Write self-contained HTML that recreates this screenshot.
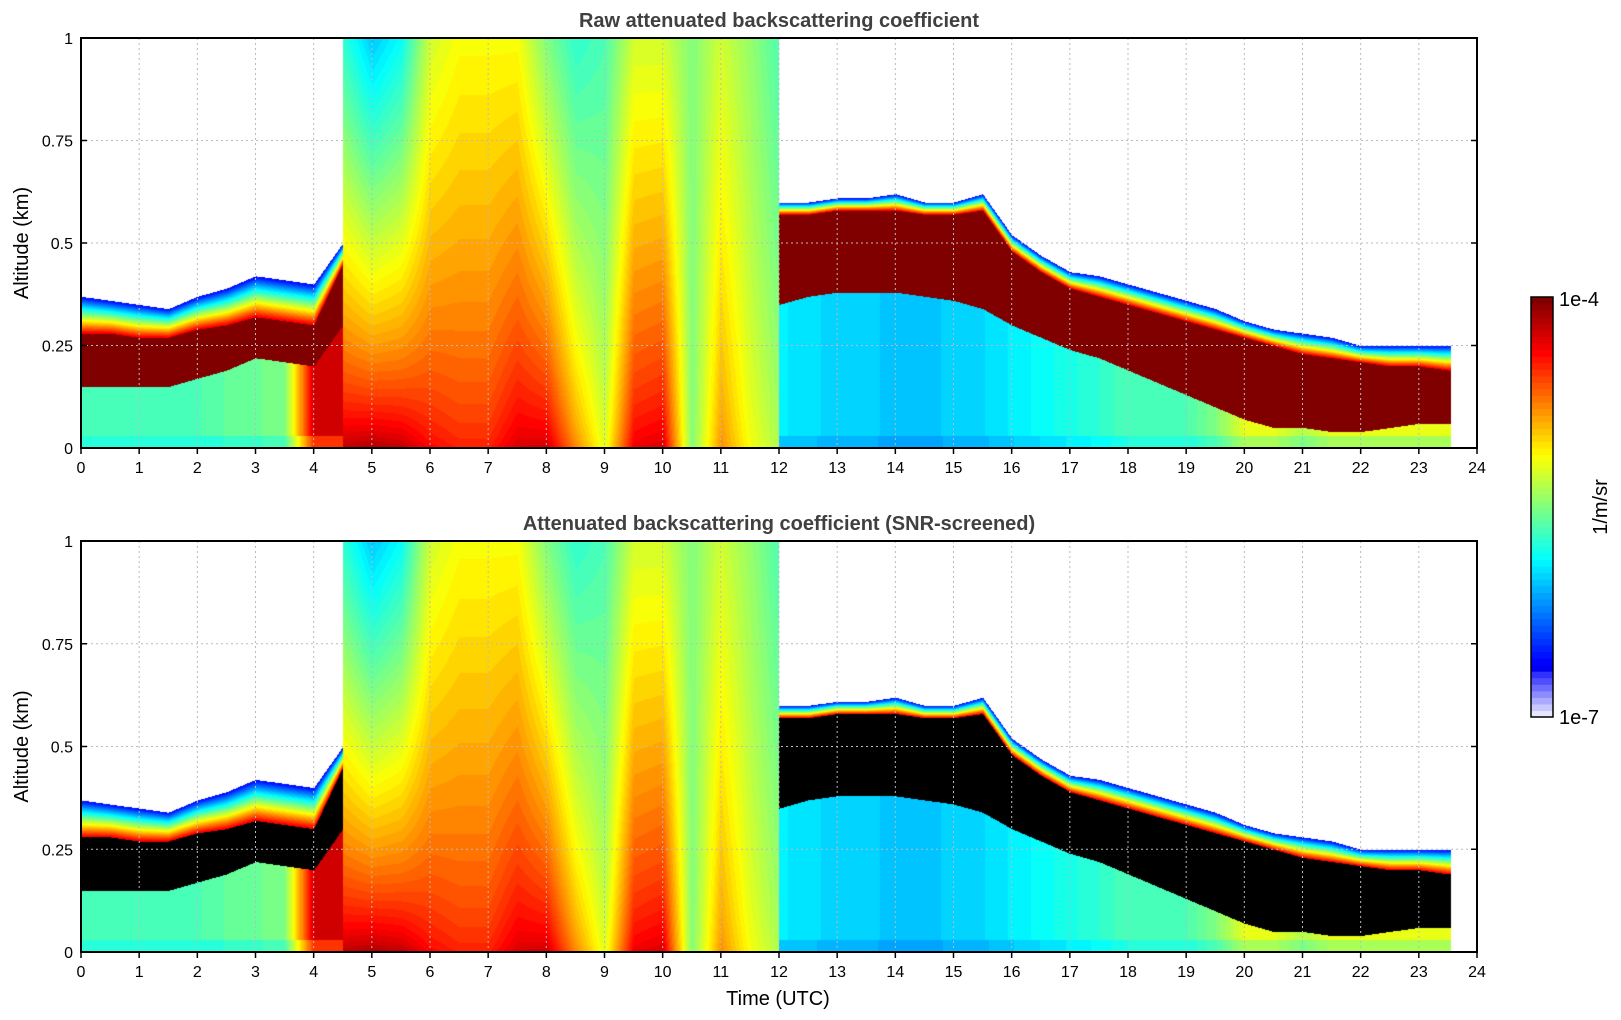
<!DOCTYPE html>
<html><head><meta charset="utf-8">
<style>
html,body{margin:0;padding:0;background:#fff;}
#wrap{position:relative;width:1621px;height:1020px;font-family:"Liberation Sans","DejaVu Sans",sans-serif;}
canvas{position:absolute;}
svg{position:absolute;left:0;top:0;}
</style></head>
<body>
<div id="wrap">
<canvas id="c1" width="1396" height="410" style="left:81px;top:38px"></canvas>
<canvas id="c2" width="1396" height="411" style="left:81px;top:541px"></canvas>
<svg id="ov" width="1621" height="1020"></svg>
</div>
<script>
// data per half hour, t = 0 .. 23.5
const times = [0,0.5,1,1.5,2,2.5,3,3.5,4,4.5,5,5.5,6,6.5,7,7.5,8,8.5,9,9.5,10,10.5,11,11.5,12,12.5,13,13.5,14,14.5,15,15.5,16,16.5,17,17.5,18,18.5,19,19.5,20,20.5,21,21.5,22,22.5,23,23.5];
const cloudFlag = [0,0,0,0,0,0,0,0,0,1,1,1,1,1,1,1,1,1,1,1,1,1,1,1,1,0,0,0,0,0,0,0,0,0,0,0,0,0,0,0,0,0,0,0,0,0,0,0];
const layerTop = [.37,.36,.35,.34,.37,.39,.42,.41,.40,.50,.5,.5,.5,.5,.5,.5,.5,.5,.5,.5,.5,.5,.5,.6,.60,.60,.61,.61,.62,.60,.60,.62,.52,.47,.43,.42,.40,.38,.36,.34,.31,.29,.28,.27,.25,.25,.25,.25];
const darkTop = [.28,.28,.27,.27,.29,.30,.32,.31,.30,.45,.4,.4,.4,.4,.4,.4,.4,.4,.4,.4,.4,.4,.4,.5,.57,.57,.58,.58,.58,.57,.57,.58,.48,.43,.39,.37,.35,.33,.31,.29,.27,.25,.23,.22,.21,.20,.20,.19];
const darkBottom = [.15,.15,.15,.15,.17,.19,.22,.21,.20,.30,.2,.2,.2,.2,.2,.2,.2,.2,.2,.2,.2,.2,.2,.35,.35,.37,.38,.38,.38,.37,.36,.34,.30,.27,.24,.22,.19,.16,.13,.10,.07,.05,.05,.04,.04,.05,.06,.06];
const belowVal = [.45,.45,.45,.45,.45,.47,.48,.50,.92,.92,.9,.9,.9,.9,.9,.9,.9,.9,.9,.9,.9,.9,.9,.4,.36,.35,.33,.33,.32,.32,.33,.34,.36,.38,.4,.42,.45,.45,.45,.5,.6,.6,.55,.6,.6,.6,.6,.6];
const cloudLow = [0,0,0,0,0,0,0,0,0,.95,.97,.95,.88,.85,.85,.92,.93,.75,.6,.9,.92,.5,.74,.62,.55,0,0,0,0,0,0,0,0,0,0,0,0,0,0,0,0,0,0,0,0,0,0,0];
const cloudHigh = [0,0,0,0,0,0,0,0,0,.42,.32,.38,.58,.62,.62,.62,.5,.42,.45,.58,.58,.5,.58,.52,.45,0,0,0,0,0,0,0,0,0,0,0,0,0,0,0,0,0,0,0,0,0,0,0];
const xTicks = [0,1,2,3,4,5,6,7,8,9,10,11,12,13,14,15,16,17,18,19,20,21,22,23,24];
const yTicks = [0,0.25,0.5,0.75,1];
const yTickLabels = ["0","0.25","0.5","0.75","1"];

const X0=81,W=1396,PX=W/24;
function clamp(v){return Math.max(0,Math.min(1,v));}
function jet(v){
  v=Math.round(clamp(v)*63)/63;
  if(v<0.1){const f=v/0.1;return [Math.round(230-(230-40)*f),Math.round(230-(230-40)*f),255];}
  const r=clamp(1.5-Math.abs(4*v-3)),g=clamp(1.5-Math.abs(4*v-2)),b=clamp(1.5-Math.abs(4*v-1));
  return [Math.round(r*255),Math.round(g*255),Math.round(b*255)];
}
function lerpArr(a,i0,i1,f){return a[i0]+(a[i1]-a[i0])*f;}
function draw(id,screened){
  const c=document.getElementById(id),ctx=c.getContext('2d');
  const H=c.height,img=ctx.createImageData(c.width,H),d=img.data;
  for(let px=0;px<c.width;px++){
    const t=px/PX; if(t>23.55) continue;
    const fi=t/0.5,i0=Math.min(Math.floor(fi),times.length-1),i1=Math.min(i0+1,times.length-1),f=fi-i0;
    const cl=cloudFlag[i0]&&cloudFlag[i1];
    const top=lerpArr(layerTop,i0,i1,f),dT=lerpArr(darkTop,i0,i1,f),dB=lerpArr(darkBottom,i0,i1,f),bv=lerpArr(belowVal,i0,i1,f);
    const lo=lerpArr(cloudLow,i0,i1,f),hi=lerpArr(cloudHigh,i0,i1,f);
    for(let py=0;py<H;py++){
      const z=1-py/H; let col=null;
      if(cl){
        col=jet(lo+(hi-lo)*Math.pow(z,0.7));
      } else {
        if(z<0.03) col=jet(bv*0.9);
        else if(z<dB) col=jet(bv);
        else if(z<dT) col=screened?[0,0,0]:jet(1);
        else if(z<top){const g=(z-dT)/(top-dT);col=jet(0.9-0.78*g);}
      }
      if(col){const k=(py*c.width+px)*4;d[k]=col[0];d[k+1]=col[1];d[k+2]=col[2];d[k+3]=255;}
    }
  }
  ctx.putImageData(img,0,0);
}
draw('c1',false);draw('c2',true);

const NS='http://www.w3.org/2000/svg',ov=document.getElementById('ov');
function el(tag,attrs,parent){const e=document.createElementNS(NS,tag);for(const k in attrs)e.setAttribute(k,attrs[k]);(parent||ov).appendChild(e);return e;}
function panel(top,h,title,showXTitle,nm){
  const g=el('g',{});
  
  
  const sx=t=>X0+t*PX, sy=v=>top+h-v*h;
  xTicks.forEach(t=>{
    if(t>0&&t<24){const l=el('line',{x1:sx(t),x2:sx(t),y1:top,y2:top+h,stroke:'#bbb','stroke-dasharray':'2,3','stroke-width':1},g);
      }
    const tk=el('line',{x1:sx(t),x2:sx(t),y1:top+h,y2:top+h+6,stroke:'#000','stroke-width':1.5},g);
    
    const tx=el('text',{x:sx(t),y:top+h+25,'text-anchor':'middle','font-size':16,fill:'#000'},g);tx.textContent=t;
    
  });
  yTicks.forEach((v,i)=>{
    if(v>0&&v<1){const l=el('line',{x1:X0,x2:X0+W,y1:sy(v),y2:sy(v),stroke:'#bbb','stroke-dasharray':'2,3','stroke-width':1},g);
      }
    const t1=el('line',{x1:X0,x2:X0+6,y1:sy(v),y2:sy(v),stroke:'#000','stroke-width':1.5},g);
    
    const t2=el('line',{x1:X0+W-6,x2:X0+W,y1:sy(v),y2:sy(v),stroke:'#000','stroke-width':1.5},g);
    
    const tx=el('text',{x:X0-8,y:sy(v)+6,'text-anchor':'end','font-size':16,fill:'#000'},g);tx.textContent=yTickLabels[i];
    
  });
  const fr=el('rect',{x:X0,y:top,width:W,height:h,fill:'none',stroke:'#000','stroke-width':2},g);
  
  const tt=el('text',{x:X0+W/2,y:top-11,'text-anchor':'middle','font-size':20,'font-weight':'bold',fill:'#404040'},g);tt.textContent=title;
  
  const yl=el('text',{x:0,y:0,'text-anchor':'middle','font-size':20,fill:'#000',transform:`translate(28,${top+h/2}) rotate(-90)`},g);yl.textContent='Altitude (km)';
  
  if(showXTitle){const xl=el('text',{x:X0+W/2-1,y:1005,'text-anchor':'middle','font-size':20,fill:'#000'},g);xl.textContent='Time (UTC)';
    }
}
panel(38,410,'Raw attenuated backscattering coefficient',false,'raw');
panel(541,411,'Attenuated backscattering coefficient (SNR-screened)',true,'screened');
// colorbar
const cb=el('g',{});


const cbTop=297,cbBot=717,cbX=1531,cbW=22,N=64;
for(let i=0;i<N;i++){
  const v=i/(N-1),c=jet(v),hh=(cbBot-cbTop)/N;
  el('rect',{x:cbX,y:cbBot-(i+1)*hh,width:cbW,height:hh+0.6,fill:`rgb(${c[0]},${c[1]},${c[2]})`},cb);
}
el('rect',{x:cbX,y:cbTop,width:cbW,height:cbBot-cbTop,fill:'none',stroke:'#000','stroke-width':1.5},cb);
const l1=el('text',{x:1559,y:306,'font-size':20,fill:'#000'},cb);l1.textContent='1e-4';

const l2=el('text',{x:1559,y:724,'font-size':20,fill:'#000'},cb);l2.textContent='1e-7';

const l3=el('text',{x:0,y:0,'text-anchor':'middle','font-size':20,fill:'#000',transform:'translate(1607,507) rotate(-90)'},cb);l3.textContent='1/m/sr';

</script>
</body></html>
